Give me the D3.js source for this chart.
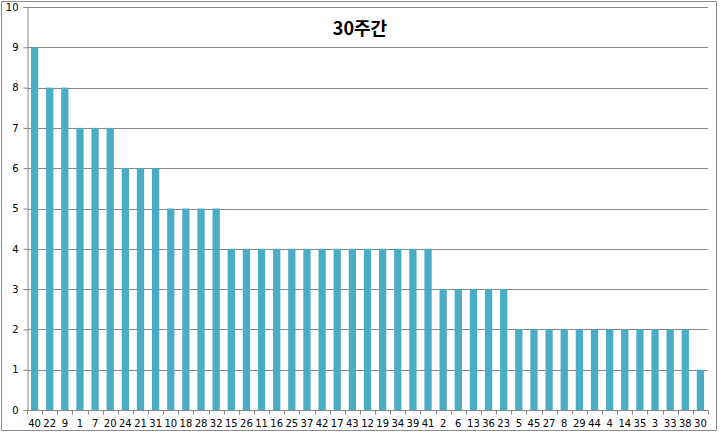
<!DOCTYPE html>
<html><head><meta charset="utf-8">
<script src="https://cdn.jsdelivr.net/npm/d3@7"></script>
<style>body{margin:0;background:#fff}svg{display:block}</style>
</head><body>
<svg id="c" width="720" height="433"></svg>
<script>
const categories = ["40","22","9","1","7","20","24","21","31","10","18","28","32","15","26","11","16","25","37","42","17","43","12","19","34","39","41","2","6","13","36","23","5","45","27","8","29","44","4","14","35","3","33","38","30"];
const values = [9,8,8,7,7,7,6,6,6,5,5,5,5,4,4,4,4,4,4,4,4,4,4,4,4,4,4,3,3,3,3,3,2,2,2,2,2,2,2,2,2,2,2,2,1];
const yTicks = [0,1,2,3,4,5,6,7,8,9,10];
const title = "30주간";

const svg = d3.select("#c");
const m = {l:27, r:12, t:7, b:23};
const W = 720, H = 433;
const x = d3.scaleBand().domain(categories).range([m.l, W - m.r]).paddingInner(0.52).paddingOuter(0.26);
const y = d3.scaleLinear().domain([0,10]).range([H - m.b, m.t]);

svg.append("rect").attr("x",1.5).attr("y",1.5).attr("width",W-5).attr("height",H-4)
  .attr("fill","#fff").attr("stroke","#8c8c8c").attr("stroke-width",1);

// gridlines
svg.append("g").selectAll("line").data(yTicks.filter(d=>d>0)).join("line")
  .attr("x1",m.l).attr("x2",W-m.r)
  .attr("y1",d=>Math.round(y(d))+0.5).attr("y2",d=>Math.round(y(d))+0.5)
  .attr("stroke","#878787").attr("stroke-width",1);

// bars
svg.append("g").selectAll("rect").data(values).join("rect")
  .attr("x",(d,i)=>x(categories[i]))
  .attr("width",x.bandwidth())
  .attr("y",d=>y(d))
  .attr("height",d=>y(0)-y(d))
  .attr("fill","#4bacc6");

// y axis
const ya = svg.append("g").attr("transform",`translate(${m.l+0.5},0)`)
  .call(d3.axisLeft(y).tickValues(yTicks).tickSize(4).tickPadding(5).tickFormat(d3.format("d")));
ya.selectAll("text").attr("font-family","Verdana, 'DejaVu Sans', sans-serif").attr("font-size",10).attr("fill","#000");
ya.selectAll("line,path").attr("stroke","#878787");

// x axis
const step = x.step();
const xa = svg.append("g").attr("transform",`translate(0,${Math.round(y(0))+0.5})`);
xa.append("line").attr("x1",m.l).attr("x2",W-m.r).attr("stroke","#878787");
xa.selectAll("line.t").data(d3.range(categories.length+1)).join("line").attr("class","t")
  .attr("x1",i=>Math.round(m.l + i*step)+0.5).attr("x2",i=>Math.round(m.l + i*step)+0.5)
  .attr("y1",0).attr("y2",4).attr("stroke","#878787");
xa.selectAll("text").data(categories).join("text")
  .attr("x",d=>x(d)+x.bandwidth()/2).attr("y",16)
  .attr("text-anchor","middle")
  .attr("font-family","Verdana, 'DejaVu Sans', sans-serif").attr("font-size",10).attr("fill","#000")
  .text(d=>d);

svg.append("text").attr("x",360).attr("y",35).attr("text-anchor","middle")
  .attr("font-family","'Noto Sans CJK KR', sans-serif").attr("font-weight","bold").attr("font-size",18)
  .text(title);
</script>
</body></html>
